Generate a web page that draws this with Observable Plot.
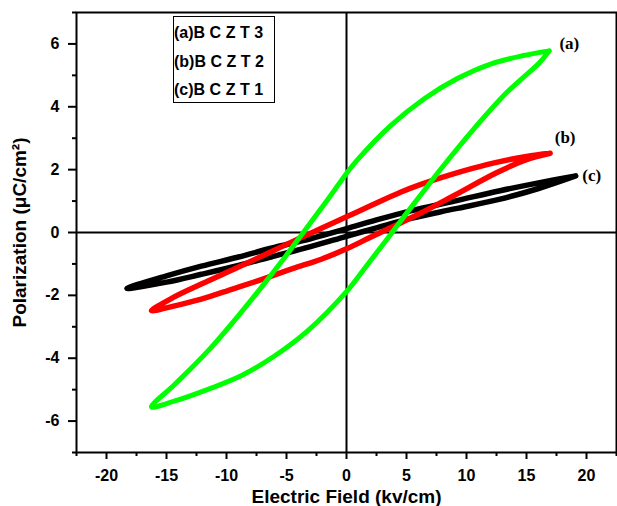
<!DOCTYPE html>
<html>
<head>
<meta charset="utf-8">
<script src="https://cdn.jsdelivr.net/npm/d3@7"></script>
<script src="https://cdn.jsdelivr.net/npm/@observablehq/plot@0.6"></script>
<style>
  body { margin: 0; background: #fff; }
  #wrap { position: relative; width: 617px; height: 506px; }
  #legend { position: absolute; left: 173px; top: 16px; width: 102px; height: 87px; border: 1px solid #000;
            font: bold 16px "Liberation Sans", Arial, sans-serif; color: #000; box-sizing: border-box; }
  #legend .row { position: absolute; left: 0px; height: 20px; line-height: 20px; white-space: nowrap; }
  #legend .sp { letter-spacing: 4.5px; }
</style>
</head>
<body>
<div id="wrap"><div id="legend"></div></div>
<script>
// ---- data ----
const seriesKeys   = ["a", "b", "c"];
const legendPrefix = ["(a)", "(b)", "(c)"];
const legendNames  = ["BCZT3", "BCZT2", "BCZT1"];
const tipLabels    = ["(a)", "(b)", "(c)"];
const seriesColors = ["#00ff00", "#ff0000", "#000000"];

const xMajorTicks = [-20, -15, -10, -5, 0, 5, 10, 15, 20];
const xMinorTicks = [-22.5, -17.5, -12.5, -7.5, -2.5, 2.5, 7.5, 12.5, 17.5, 22.5];
const yMajorTicks = [-6, -4, -2, 0, 2, 4, 6];
const yMinorTicks = [-7, -5, -3, -1, 1, 3, 5, 7];

// (a) BCZT3 – green loop: + tip, upper (descending) branch, - tip, lower (ascending) branch
const loopA_E = [16.9, 14.75, 12.0, 9.2, 6.45, 3.68, 1.0, 0, -1.5, -3.6, -5.2, -6.9, -8.8, -11.5, -14.3, -16.25,
                 -14.3, -11.55, -8.78, -6.0, -3.24, 0, 1.3, 2.6, 3.8, 5.06, 6.2, 7.86, 10.6, 13.37, 16.1, 16.9];
const loopA_P = [5.78, 5.63, 5.36, 4.89, 4.25, 3.4, 2.35, 1.88, 1.08, 0, -0.82, -1.65, -2.55, -3.75, -4.83, -5.55,
                 -5.36, -4.99, -4.56, -3.93, -3.13, -1.88, -1.25, -0.6, 0, 0.64, 1.2, 2.02, 3.29, 4.46, 5.41, 5.78];

// (b) BCZT2 – red loop
const loopB_E = [16.97, 15, 12.6, 10.5, 8.7, 6.2, 4.5, 2, 0, -2, -3.9, -6.5, -9, -12.1, -14.5, -16.25,
                 -14.5, -12.1, -9.5, -7.1, -4.5, -2.1, 0, 2, 4.2, 6.2, 8.7, 12.5, 15, 16.97];
const loopB_P = [2.52, 2.42, 2.24, 2.04, 1.84, 1.53, 1.28, 0.85, 0.5, 0.15, -0.18, -0.65, -1.1, -1.64, -2.08, -2.49,
                 -2.35, -2.12, -1.8, -1.5, -1.15, -0.85, -0.52, -0.15, 0.25, 0.62, 1.12, 1.9, 2.32, 2.52];

// (c) BCZT1 – black loop
const loopC_E = [19.1, 16, 12.8, 9, 5.35, 2.5, 0, -3, -6.3, -9, -12.1, -15, -18.3,
                 -15, -12.1, -9, -6.3, -3, 0, 2.5, 5.35, 9, 12.8, 16, 19.1];
const loopC_P = [1.8, 1.58, 1.33, 1.0, 0.69, 0.4, 0.12, -0.2, -0.5, -0.78, -1.07, -1.38, -1.78,
                 -1.58, -1.33, -1.05, -0.78, -0.45, -0.12, 0.15, 0.45, 0.75, 1.06, 1.4, 1.8];

// ---- build table ----
const loopsE = [loopA_E, loopB_E, loopC_E];
const loopsP = [loopA_P, loopB_P, loopC_P];
const rows = [];
seriesKeys.forEach((k, i) => loopsE[i].forEach((e, j) => rows.push({series: k, E: e, P: loopsP[i][j], idx: j})));
const tips = seriesKeys.map((k, i) => {
  const pts = rows.filter(r => r.series === k);
  const t = d3.greatest(pts, r => r.E);
  return {series: k, E: t.E, P: t.P, label: tipLabels[i]};
});
const bySeries = k => rows.filter(r => r.series === k);
const tipOf = k => tips.filter(t => t.series === k);

const font = "Liberation Sans, Arial, sans-serif";
const serif = "Liberation Serif, Times New Roman, serif";

const chart = Plot.plot({
  width: 617,
  height: 506,
  marginLeft: 76,
  marginRight: 1,
  marginTop: 12,
  marginBottom: 54,
  style: {fontFamily: font, fontWeight: "bold", background: "#fff", color: "#000"},
  x: {domain: [-22.5, 22.5]},
  y: {domain: [-7, 7]},
  marks: [
    Plot.axisX(xMinorTicks, {tickSize: 4, strokeWidth: 2, text: null, label: null}),
    Plot.axisX(xMajorTicks, {tickSize: 7, tickPadding: 10, strokeWidth: 2, fontSize: 16, fontWeight: "bold",
      tickFormat: d => String(d), label: null}),
    Plot.axisX([], {label: "Electric Field (kv/cm)", labelAnchor: "center", labelArrow: "none",
      labelOffset: 50, fontSize: 19, fontWeight: "bold", tickSize: 0}),
    Plot.axisY(yMinorTicks, {tickSize: 4, strokeWidth: 2, text: null, label: null}),
    Plot.axisY(yMajorTicks, {tickSize: 8, tickPadding: 9, strokeWidth: 2, fontSize: 16, fontWeight: "bold",
      tickFormat: d => String(d), label: null}),
    Plot.axisY([], {label: "Polarization (μC/cm²)", labelAnchor: "center", labelArrow: "none",
      labelOffset: 64, fontSize: 19, fontWeight: "bold", tickSize: 0}),
    Plot.ruleX([0], {stroke: "#000", strokeWidth: 2}),
    Plot.ruleY([0], {stroke: "#000", strokeWidth: 2}),
    Plot.line(bySeries("c"), {x: "E", y: "P", stroke: seriesColors[2], strokeWidth: 5.5, curve: "catmull-rom"}),
    Plot.line(bySeries("b"), {x: "E", y: "P", stroke: seriesColors[1], strokeWidth: 5.5, curve: "catmull-rom"}),
    Plot.line(bySeries("a"), {x: "E", y: "P", stroke: seriesColors[0], strokeWidth: 5, curve: "catmull-rom"}),
    Plot.text(tipOf("a"), {x: "E", y: "P", text: "label", dx: 20, dy: -7, fontFamily: serif, fontWeight: "bold", fontSize: 17, fill: "#000"}),
    Plot.text(tipOf("b"), {x: "E", y: "P", text: "label", dx: 15, dy: -16, fontFamily: serif, fontWeight: "bold", fontSize: 17, fill: "#000"}),
    Plot.text(tipOf("c"), {x: "E", y: "P", text: "label", dx: 16, dy: 0, fontFamily: serif, fontWeight: "bold", fontSize: 17, fill: "#000"}),
    Plot.frame({stroke: "#000", strokeWidth: 2})
  ]
});
const wrap = document.getElementById("wrap");
wrap.insertBefore(chart, wrap.firstChild);

// legend box
const legend = document.getElementById("legend");
const rowTops = [6, 35, 63];
legendPrefix.forEach((p, i) => {
  const r = document.createElement("div");
  r.className = "row";
  r.style.top = rowTops[i] + "px";
  r.innerHTML = `<span>${p}</span><span class="sp">${legendNames[i]}</span>`;
  legend.appendChild(r);
});
</script>
</body>
</html>
